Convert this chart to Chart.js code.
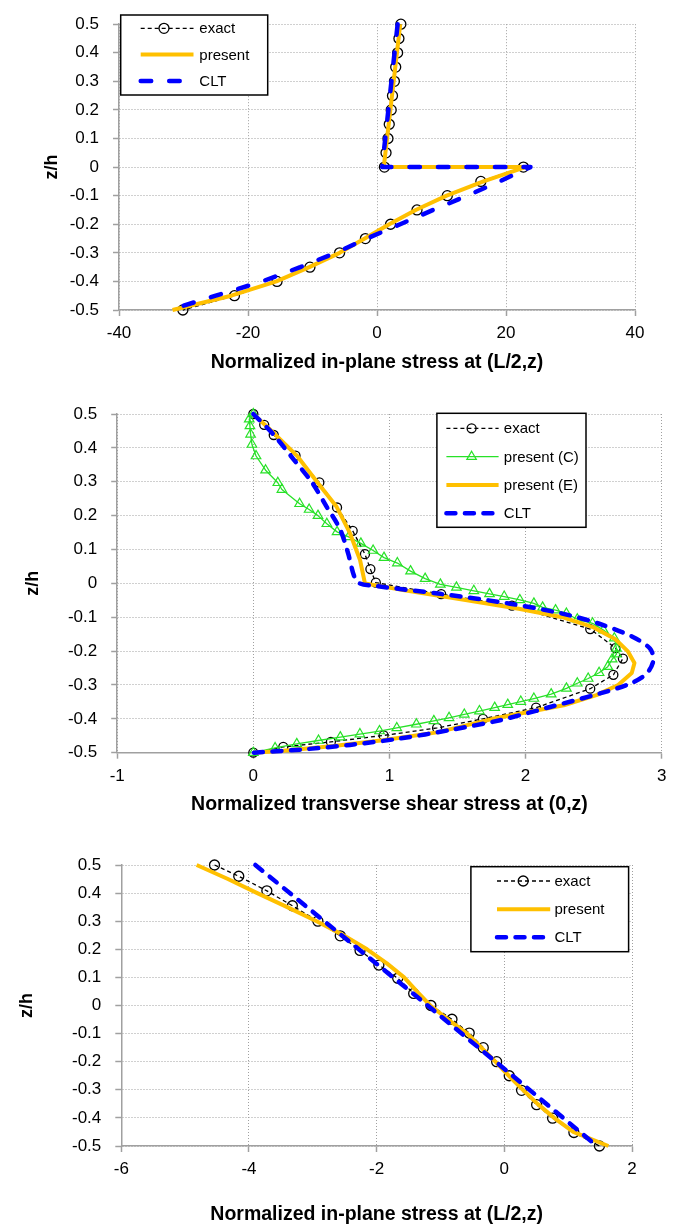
<!DOCTYPE html>
<html>
<head>
<meta charset="utf-8">
<title>Stress profiles through the thickness</title>
<script src="https://cdn.jsdelivr.net/npm/chart.js@4.4.1/dist/chart.umd.min.js"></script>
<style>
  html, body { margin: 0; padding: 0; background: #fff; }
  body { width: 683px; height: 1225px; position: relative; overflow: hidden; }
  canvas { position: absolute; left: 0; }
</style>
</head>
<body>
<canvas id="inplaneTop" width="683" height="385" style="top:0px"></canvas>
<canvas id="shear" width="683" height="440" style="top:385px"></canvas>
<canvas id="inplaneBottom" width="683" height="400" style="top:825px"></canvas>
<script>
// in-plane stress at (L/2, z), first plot
const s1ExactZ = [0.5, 0.45, 0.4, 0.35, 0.3, 0.25, 0.2, 0.15, 0.1, 0.05, 0, 0, -0.05, -0.1, -0.15, -0.2, -0.25, -0.3, -0.35, -0.4, -0.45, -0.5];
const s1ExactX = [3.7, 3.4, 3.2, 2.9, 2.7, 2.4, 2.2, 1.9, 1.7, 1.4, 1.15, 22.7, 16.1, 10.9, 6.2, 2.1, -1.8, -5.8, -10.4, -15.5, -22.1, -30.1];
const s1PresentZ = [0.5, 0, 0, -0.05, -0.1, -0.15, -0.2, -0.25, -0.3, -0.35, -0.4, -0.45, -0.5];
const s1PresentX = [3.6, 1.05, 23.0, 16.5, 10.8, 6.0, 1.9, -1.9, -5.8, -10.5, -15.6, -22.6, -31.7];
const s1CltZ = [0.5, 0, 0, -0.05, -0.1, -0.15, -0.2, -0.25, -0.3, -0.35, -0.4, -0.45, -0.5];
const s1CltX = [3.2, 0.8, 23.8, 19.0, 14.0, 8.7, 3.6, -1.6, -6.4, -11.9, -17.8, -25.0, -32.2];

// transverse shear stress at (0, z)
const s2ExactX = [0, 0.08, 0.15, 0.31, 0.485, 0.615, 0.73, 0.82, 0.86, 0.90, 1.38, 1.90, 2.475, 2.66, 2.715, 2.645, 2.475, 2.077, 1.687, 1.35, 0.957, 0.57, 0.22, 0];
const s2ExactZ = [0.5, 0.468, 0.438, 0.377, 0.298, 0.224, 0.155, 0.086, 0.042, 0.002, -0.032, -0.066, -0.135, -0.191, -0.222, -0.27, -0.311, -0.367, -0.4, -0.427, -0.449, -0.468, -0.483, -0.5];
const s2PresentCX = [0, -0.03, -0.025, -0.02, -0.01, 0.02, 0.09, 0.18, 0.21, 0.34, 0.41, 0.475, 0.54, 0.615, 0.70, 0.79, 0.88, 0.96, 1.058, 1.155,
  1.262, 1.374, 1.492, 1.62, 1.735, 1.843, 1.958, 2.061, 2.125, 2.22, 2.30, 2.38, 2.492, 2.572, 2.652, 2.668, 2.668, 2.636, 2.604, 2.54,
  2.46, 2.38, 2.30, 2.188, 2.061, 1.965, 1.869, 1.773, 1.661, 1.55, 1.438, 1.326, 1.198, 1.054, 0.927, 0.783, 0.639, 0.479, 0.319, 0.16, 0];
const s2PresentCZ = [0.5, 0.485, 0.465, 0.44, 0.41, 0.376, 0.334, 0.297, 0.277, 0.235, 0.218, 0.2, 0.176, 0.152, 0.137, 0.118, 0.097, 0.076, 0.06, 0.036,
  0.014, -0.003, -0.012, -0.022, -0.031, -0.039, -0.049, -0.059, -0.071, -0.079, -0.089, -0.106, -0.118, -0.138, -0.162, -0.192, -0.209, -0.224, -0.246, -0.264,
  -0.281, -0.295, -0.31, -0.327, -0.34, -0.349, -0.358, -0.367, -0.377, -0.387, -0.397, -0.406, -0.416, -0.427, -0.436, -0.445, -0.454, -0.464, -0.474, -0.486, -0.5];
const s2PresentEX = [0, 0.16, 0.318, 0.477, 0.612, 0.71, 0.784, 0.82, 1.1, 1.57, 1.95, 2.27, 2.5, 2.66, 2.75, 2.8, 2.78, 2.68, 2.52, 2.28, 1.76, 1.35, 0.95, 0.59, 0.22, 0];
const s2PresentEZ = [0.5, 0.44, 0.378, 0.295, 0.226, 0.148, 0.069, 0, -0.02, -0.05, -0.075, -0.1, -0.13, -0.165, -0.2, -0.235, -0.265, -0.3, -0.33, -0.36, -0.4, -0.44, -0.463, -0.48, -0.494, -0.5];
const s2CltX = [0, 0.147, 0.294, 0.429, 0.539, 0.637, 0.698, 0.74, 0.78, 0.9, 1.372, 1.886, 2.278, 2.547, 2.792, 2.915, 2.939, 2.89, 2.768, 2.547, 2.18, 1.812, 1.445, 1.078, 0.71, 0.343, 0];
const s2CltZ = [0.5, 0.44, 0.367, 0.299, 0.226, 0.16, 0.086, 0.022, 0, -0.008, -0.031, -0.06, -0.09, -0.12, -0.159, -0.193, -0.227, -0.266, -0.296, -0.325, -0.365, -0.404, -0.433, -0.458, -0.477, -0.491, -0.5];

// in-plane stress at (L/2, z), third plot
const s3ExactX = [-4.54, -4.16, -3.72, -3.32, -2.92, -2.57, -2.26, -1.965, -1.67, -1.42, -1.15, -0.82, -0.55, -0.33, -0.12, 0.077, 0.27, 0.506, 0.756, 1.09, 1.49];
const s3ExactZ = [0.5, 0.46, 0.408, 0.355, 0.3, 0.248, 0.196, 0.144, 0.097, 0.043, 0, -0.049, -0.098, -0.15, -0.2, -0.25, -0.302, -0.353, -0.401, -0.452, -0.5];
const s3PresentX = [-4.82, -4.33, -3.87, -3.4, -2.94, -2.52, -2.15, -1.84, -1.57, -1.37, -1.16, -0.88, -0.58, -0.36, -0.14, 0.07, 0.29, 0.52, 0.78, 1.08, 1.63];
const s3PresentZ = [0.5, 0.45, 0.4, 0.35, 0.3, 0.25, 0.2, 0.15, 0.1, 0.05, 0, -0.05, -0.1, -0.15, -0.2, -0.25, -0.3, -0.35, -0.4, -0.45, -0.5];
const s3CltX = [-3.9, -2.55, -1.2, 0.13, 1.45];
const s3CltZ = [0.5, 0.25, 0, -0.25, -0.5];

const FONT = "'Liberation Sans', Arial, sans-serif";
const AXIS_GRAY = '#a0a0a0';
const YELLOW = '#ffc000';
const BLUE = '#0000ff';
const GREEN = 'rgb(40,225,40)';

function pairs(xs, zs) {
  return xs.map((x, i) => ({ x: x, y: zs[i] }));
}

function exactSeries(xs, zs, r) {
  return {
    label: 'exact', data: pairs(xs, zs), order: 4,
    borderColor: '#000', borderWidth: 1.3, borderDash: [4, 3],
    pointStyle: 'circle', pointRadius: r, pointBorderColor: '#000', pointBorderWidth: 1.3,
    pointBackgroundColor: 'rgba(0,0,0,0)', tension: 0, clip: false
  };
}

function presentSeries(label, xs, zs) {
  return {
    label: label, data: pairs(xs, zs), order: 2,
    borderColor: YELLOW, borderWidth: 4, pointRadius: 0, tension: 0, clip: false
  };
}

function cltSeries(xs, zs, dash, tension) {
  return {
    label: 'CLT', data: pairs(xs, zs), order: 1,
    borderColor: BLUE, borderWidth: 4.5, borderDash: dash, borderCapStyle: 'round',
    pointRadius: 0, tension: tension, clip: false
  };
}

// framed legend drawn inside the plot area
const boxLegend = {
  id: 'boxLegend',
  afterDraw(chart, args, opts) {
    const ctx = chart.ctx;
    ctx.save();
    ctx.fillStyle = '#fff';
    ctx.fillRect(opts.x, opts.y, opts.w, opts.h);
    ctx.lineWidth = 1.5;
    ctx.strokeStyle = '#000';
    ctx.strokeRect(opts.x, opts.y, opts.w, opts.h);
    chart.data.datasets.forEach((ds, i) => {
      const y = opts.rows[i];
      ctx.setLineDash(ds.borderDash || []);
      ctx.lineCap = ds.borderCapStyle || 'butt';
      ctx.lineWidth = ds.borderWidth;
      ctx.strokeStyle = ds.borderColor;
      ctx.beginPath();
      ctx.moveTo(opts.x0, y);
      ctx.lineTo(opts.x1, y);
      ctx.stroke();
      ctx.setLineDash([]);
      if (ds.pointRadius) {
        const r = ds.pointRadius;
        ctx.lineWidth = ds.pointBorderWidth;
        ctx.strokeStyle = ds.pointBorderColor;
        ctx.beginPath();
        if (ds.pointStyle === 'triangle') {
          let rad = 0;
          ctx.moveTo(opts.xm + Math.sin(rad) * r, y - Math.cos(rad) * r);
          rad += 2 * Math.PI / 3;
          ctx.lineTo(opts.xm + Math.sin(rad) * r, y - Math.cos(rad) * r);
          rad += 2 * Math.PI / 3;
          ctx.lineTo(opts.xm + Math.sin(rad) * r, y - Math.cos(rad) * r);
          ctx.closePath();
        } else {
          ctx.arc(opts.xm, y, r, 0, Math.PI * 2);
        }
        ctx.stroke();
      }
      ctx.fillStyle = '#000';
      ctx.font = '15px ' + FONT;
      ctx.textBaseline = 'middle';
      ctx.textAlign = 'left';
      ctx.fillText(ds.label, opts.xt, y + 1);
    });
    ctx.restore();
  }
};

function stressAxes(o) {
  const grid = { color: AXIS_GRAY, lineWidth: 1, tickLength: 6, tickColor: AXIS_GRAY, tickWidth: 1.5 };
  const border = { color: AXIS_GRAY, width: 1.5, dash: [1, 2] };
  return {
    x: {
      type: 'linear', min: o.xMin, max: o.xMax,
      ticks: { stepSize: o.xStep, padding: 7, color: '#000', font: { family: FONT, size: 17 } },
      grid: grid, border: border,
      title: {
        display: true, text: o.xTitle, color: '#000',
        padding: { top: 0, bottom: o.xTitlePad },
        font: { family: FONT, size: 19.5, weight: 'bold', lineHeight: 1 }
      },
      afterFit: function (scale) { scale.height = o.xHeight; }
    },
    y: {
      type: 'linear', min: -0.5, max: 0.5,
      ticks: {
        stepSize: 0.1, padding: 14, color: '#000', font: { family: FONT, size: 17 },
        callback: v => String(Math.round(v * 10) / 10)
      },
      grid: grid, border: border,
      title: {
        display: true, text: 'z/h', color: '#000',
        padding: { top: o.yTitlePad, bottom: 0 },
        font: { family: FONT, size: 18, weight: 'bold', lineHeight: 1 }
      },
      afterFit: function (scale) { scale.width = o.yWidth; }
    }
  };
}

function makeChart(id, datasets, axes, padding, legend) {
  return new Chart(document.getElementById(id), {
    type: 'line',
    data: { datasets: datasets },
    options: {
      responsive: false,
      animation: false,
      events: [],
      layout: { padding: padding },
      elements: { line: { borderJoinStyle: 'round' } },
      scales: stressAxes(axes),
      plugins: { legend: { display: false }, tooltip: { enabled: false }, boxLegend: legend }
    },
    plugins: [boxLegend]
  });
}

makeChart('inplaneTop',
  [
    exactSeries(s1ExactX, s1ExactZ, 5),
    presentSeries('present', s1PresentX, s1PresentZ),
    cltSeries(s1CltX, s1CltZ, [10.5, 18], 0)
  ],
  { xMin: -40, xMax: 40, xStep: 20, xTitle: 'Normalized in-plane stress at (L/2,z)',
    xHeight: 75, xTitlePad: 12.25, yWidth: 119, yTitlePad: 43 },
  { left: 0, top: 15, right: 48, bottom: 0 },
  { x: 120.7, y: 15, w: 147, h: 80, rows: [28.3, 54.5, 81], x0: 140.7, x1: 193.5, xm: 164, xt: 199.3 }
);

makeChart('shear',
  [
    exactSeries(s2ExactX, s2ExactZ, 4.5),
    {
      label: 'present (C)', data: pairs(s2PresentCX, s2PresentCZ), order: 3,
      borderColor: GREEN, borderWidth: 1.3, pointStyle: 'triangle', pointRadius: 5.5,
      pointBorderColor: GREEN, pointBorderWidth: 1.2, pointBackgroundColor: 'rgba(0,0,0,0)',
      tension: 0, clip: false
    },
    presentSeries('present (E)', s2PresentEX, s2PresentEZ),
    cltSeries(s2CltX, s2CltZ, [9, 9.5], 0.3)
  ],
  { xMin: -1, xMax: 3, xStep: 1, xTitle: 'Normalized transverse shear stress at (0,z)',
    xHeight: 72.3, xTitlePad: 10.25, yWidth: 117.2, yTitlePad: 24.3 },
  { left: 0, top: 29, right: 21.3, bottom: 0 },
  { x: 436.9, y: 28.3, w: 149.1, h: 114, rows: [43.3, 71.7, 100, 128.3], x0: 446.4, x1: 498.6, xm: 471.6, xt: 503.8 }
);

makeChart('inplaneBottom',
  [
    exactSeries(s3ExactX, s3ExactZ, 5),
    presentSeries('present', s3PresentX, s3PresentZ),
    cltSeries(s3CltX, s3CltZ, [9, 9.5], 0)
  ],
  { xMin: -6, xMax: 2, xStep: 2, xTitle: 'Normalized in-plane stress at (L/2,z)',
    xHeight: 79, xTitlePad: 0.25, yWidth: 121.3, yTitlePad: 17.8 },
  { left: 0, top: 40, right: 51, bottom: 0 },
  { x: 470.9, y: 41.7, w: 157.7, h: 85, rows: [56, 84.3, 112.3], x0: 497, x1: 550.2, xm: 523.2, xt: 554.5 }
);
</script>
</body>
</html>
